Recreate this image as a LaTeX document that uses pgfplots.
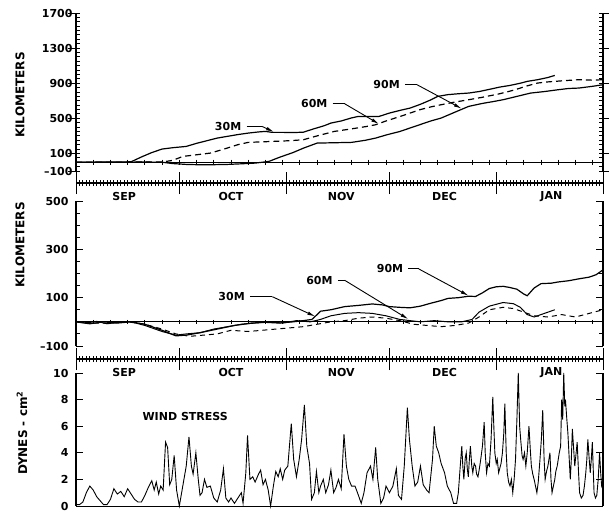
\documentclass[border=0pt]{standalone}
\usepackage{fontspec}
\setmainfont{DejaVu Sans}
\usepackage{pgfplots}
\pgfplotsset{compat=1.18}
\usetikzlibrary{arrows.meta}

\tikzset{
  lab/.style={font=\bfseries\fontsize{11}{11}\selectfont},
  ylab/.style={font=\bfseries\fontsize{12}{12}\selectfont, rotate=90},
  lead/.style={black, line width=0.9pt},
  arr/.style={black, line width=0.9pt, -{Latex[length=8pt,width=3.5pt]}}
}
\pgfplotsset{
  panel/.style={scale only axis, width=527pt, xmin=0, xmax=153,
    axis y line=box, axis x line=none, xtick=\empty, clip=false,
    tick align=inside, major tick length=7pt, minor tick length=4pt,
    every tick/.style={black, line width=0.9pt},
    axis line style={line width=1.1pt},
    yticklabel style={font=\bfseries\fontsize{11}{11}\selectfont, xshift=-4pt}},
  strip/.style={scale only axis, width=527pt, height=22pt, xmin=0, xmax=153,
    ymin=-1, ymax=1, axis x line=middle, axis y line=none,
    axis line style={-, line width=1.1pt}, clip=false,
    xtick={0,30,61,91,122,153}, minor xtick={1,2,...,152}, xticklabels={},
    tick align=center, major tick length=22pt, minor tick length=6pt,
    every tick/.style={black, line width=0.9pt}, ytick=\empty},
  curve/.style={black, line width=1.2pt, mark=none}
}

\begin{document}
\begin{tikzpicture}
\useasboundingbox (0pt,0pt) rectangle (609pt,512pt);

% ---- top panel: along-shore distance
\begin{axis}[panel, at={(76pt,341pt)}, height=158pt, ymin=-100, ymax=1700,
  ytick={-100,100,500,900,1300,1700},
  yticklabels={\textendash100,100,500,900,1300,1700},
  minor ytick={-100,-50,...,1700},
  major tick length=-8pt, yticklabel style={xshift=4pt}]
\addplot[black, line width=1pt] coordinates {(0,0)(153,0)};
\addplot[black, only marks, mark=|, mark size=2.5pt, line width=0.8pt]
  coordinates {(5,0)(10,0)(15,0)(20,0)(25,0)(30,0)(35,0)(40,0)(45,0)(50,0)(55,0)(60,0)(65,0)(70,0)(75,0)(80,0)(85,0)(90,0)(95,0)(100,0)(105,0)(110,0)(115,0)(120,0)(125,0)(130,0)(135,0)(140,0)(145,0)(150,0)};
% 30M
\addplot[curve] coordinates {(0,0)(8,2)(14,3)(16,5)(19,60)(22,110)(25,150)(28,165)(32,180)(35,215)(38,245)(41,275)(44,295)(47,315)(50,332)(53,345)(55,351)(57,340)(60,340)(63,338)(66,342)(69,380)(72,415)(74,446)(77,470)(80,505)(82,522)(85,520)(88,522)(91,560)(94,590)(97,617)(100,660)(103,710)(105,750)(108,770)(111,780)(114,788)(117,805)(120,830)(123,856)(126,875)(129,900)(131,921)(134,940)(137,965)(139,989)};
% 60M
\addplot[curve, dash pattern=on 6pt off 4pt] coordinates {(0,0)(10,0)(20,2)(25,3)(28,20)(31,66)(35,85)(39,104)(43,150)(47,200)(50,226)(54,232)(57,237)(62,245)(66,256)(70,300)(75,351)(80,380)(84,405)(87,427)(90,470)(94,520)(97,560)(100,600)(103,630)(106,655)(110,685)(114,712)(118,740)(123,780)(127,820)(131,870)(134,902)(137,915)(139,921)(142,930)(146,940)(150,935)(153,940)};
% 90M
\addplot[curve] coordinates {(0,0)(10,0)(20,2)(25,0)(28,-15)(32,-25)(36,-29)(40,-28)(44,-25)(48,-18)(52,-10)(56,9)(59,55)(63,110)(66,160)(70,218)(75,222)(80,226)(84,250)(87,275)(90,310)(94,350)(97,390)(100,430)(103,470)(106,503)(110,570)(114,636)(118,670)(121,690)(124,712)(128,750)(132,788)(136,805)(140,826)(143,840)(146,845)(150,865)(153,883)};
\node[lab, anchor=east] at (axis cs:49,408) {30M};
\draw[lead] (axis cs:49.5,408) -- (axis cs:54,408);
\draw[arr] (axis cs:54,408) -- (axis cs:57.5,345);
\node[lab, anchor=east] at (axis cs:74,666) {60M};
\draw[lead] (axis cs:74.5,666) -- (axis cs:78,666);
\draw[arr] (axis cs:78,666) -- (axis cs:88,435);
\node[lab, anchor=east] at (axis cs:95,883) {90M};
\draw[lead] (axis cs:95.5,883) -- (axis cs:99,883);
\draw[arr] (axis cs:99,883) -- (axis cs:112,610);
\end{axis}

\begin{axis}[strip, at={(76pt,318pt)}]
\node[lab] at (axis cs:14,-1.2) {SEP};
\node[lab] at (axis cs:45,-1.2) {OCT};
\node[lab] at (axis cs:77,-1.2) {NOV};
\node[lab] at (axis cs:107,-1.2) {DEC};
\node[lab] at (axis cs:138,-1.2) {JAN};
\end{axis}

% ---- middle panel: cross-shore distance
\begin{axis}[panel, at={(76pt,166pt)}, height=145pt, ymin=-100, ymax=500,
  ytick={-100,100,300,500},
  yticklabels={\textendash100,100,300,500},
  minor ytick={-100,-50,...,500}]
\addplot[black, line width=1pt] coordinates {(0,0)(153,0)};
\addplot[black, only marks, mark=|, mark size=2pt, line width=0.8pt]
  coordinates {(5,0)(10,0)(15,0)(20,0)(25,0)(30,0)(35,0)(40,0)(45,0)(50,0)(55,0)(60,0)(65,0)(70,0)(75,0)(80,0)(85,0)(90,0)(95,0)(100,0)(105,0)(110,0)(115,0)(120,0)(125,0)(130,0)(135,0)(140,0)(145,0)(150,0)};
% 30M
\addplot[curve, line width=1pt] coordinates {(0,0)(3,-5)(6,2)(9,-8)(12,-3)(16,0)(20,-15)(25,-40)(29,-55)(32,-50)(36,-45)(40,-30)(44,-20)(48,-10)(52,-5)(56,0)(60,-5)(64,5)(68,0)(71,10)(74,25)(78,35)(82,38)(86,35)(90,25)(94,10)(97,5)(100,0)(104,5)(108,0)(112,0)(115,10)(117,40)(120,65)(124,80)(127,75)(129,60)(131,30)(133,20)(135,30)(137,40)(139,50)};
% 60M
\addplot[curve, line width=1pt, dash pattern=on 5pt off 4pt] coordinates {(0,0)(5,-5)(10,-5)(15,0)(20,-10)(25,-30)(29,-50)(33,-60)(37,-55)(41,-50)(45,-35)(50,-40)(54,-35)(58,-30)(62,-25)(66,-20)(70,-10)(74,0)(78,5)(82,15)(86,20)(90,15)(94,5)(98,-10)(102,-15)(106,-20)(110,-15)(114,-5)(117,20)(120,50)(124,60)(127,55)(130,40)(133,25)(137,20)(141,30)(145,20)(149,35)(153,50)};
% 90M
\addplot[curve] coordinates {(0,0)(4,-8)(8,0)(12,-5)(16,0)(20,-10)(25,-35)(29,-58)(32,-55)(36,-45)(41,-30)(46,-15)(51,-5)(55,-2)(59,-5)(63,0)(66,5)(68.5,10)(70,30)(71,44)(74,50)(78,63)(82,68)(86,74)(89,70)(91,63)(94,60)(97,58)(100,65)(103,77)(106,88)(108,97)(111,100)(114,106)(116,105)(118,120)(120,138)(122,145)(124,147)(126,142)(128,135)(130,115)(131,108)(133,140)(135,158)(138,160)(140,165)(143,170)(146,178)(149,185)(151,195)(153,215)};
\node[lab, anchor=east] at (axis cs:50,104) {30M};
\draw[lead] (axis cs:50.5,104) -- (axis cs:57,104);
\draw[arr] (axis cs:57,104) -- (axis cs:69.5,22);
\node[lab, anchor=east] at (axis cs:75.5,172) {60M};
\draw[lead] (axis cs:76,172) -- (axis cs:78,172);
\draw[arr] (axis cs:78,172) -- (axis cs:96.5,11);
\node[lab, anchor=east] at (axis cs:96,219) {90M};
\draw[lead] (axis cs:96.5,219) -- (axis cs:99.5,219);
\draw[arr] (axis cs:99.5,219) -- (axis cs:114,108);
\end{axis}

\begin{axis}[strip, at={(76pt,142pt)}]
\node[lab] at (axis cs:14,-1.2) {SEP};
\node[lab] at (axis cs:45,-1.2) {OCT};
\node[lab] at (axis cs:77,-1.2) {NOV};
\node[lab] at (axis cs:107,-1.2) {DEC};
\node[lab] at (axis cs:138,-1.2) {JAN};
\end{axis}

% ---- bottom panel: wind stress
\begin{axis}[panel, at={(76pt,6pt)}, height=133pt, ymin=0, ymax=10,
  ytick={0,2,4,6,8,10}, yticklabels={0,2,4,6,8,10}]
\addplot[black, line width=1pt] coordinates {(0,0)(153,0)};
\addplot[black, line width=0.9pt] coordinates {(0,0.1)(1,0.1)(2,0.3)(3,1.0)(4,1.5)(5,1.2)(6,0.7)(7,0.4)(8,0.1)(9,0.1)(10,0.5)(11,1.3)(12,0.9)(13,1.1)(14,0.7)(15,1.3)(16,0.9)(17,0.5)(18,0.3)(19,0.3)(20,0.8)(21,1.4)(22,1.9)(22.7,1.2)(23.3,1.8)(24,0.9)(24.6,1.5)(25.3,1.2)(26,4.8)(26.6,4.4)(27.2,1.6)(27.8,2.0)(28.5,3.8)(29.2,1.2)(30,0.0)(31,1.5)(32,3.0)(32.8,5.2)(33.5,3.0)(34,2.4)(34.8,4.0)(35.5,2.0)(36,0.8)(36.6,1.0)(37.3,2.0)(38,1.4)(39,1.5)(40,0.6)(41,0.3)(42,1.2)(42.8,2.8)(43.5,0.6)(44.3,0.3)(45,0.6)(46,0.2)(47,0.6)(48,1.0)(48.5,0.2)(49.3,2.5)(49.8,5.3)(50.5,2.0)(51.3,2.2)(52,1.8)(53,2.4)(53.6,2.7)(54.3,1.6)(55,2.0)(55.8,1.2)(56.5,0.0)(57.3,1.5)(58,2.6)(58.7,2.2)(59.3,2.8)(60,2.0)(60.6,2.7)(61.5,3.0)(62.5,6.2)(63.2,3.5)(64,2.2)(64.8,3.5)(65.5,5.0)(66.3,7.6)(67,4.5)(67.8,3.2)(68.4,0.5)(69.2,1.0)(69.8,2.6)(70.5,1.0)(71,1.5)(71.8,2.0)(72.5,1.0)(73.3,1.6)(74,2.7)(74.8,1.0)(75.5,1.4)(76.2,2.0)(77,1.3)(77.8,5.4)(78.5,3.0)(79.2,2.0)(80,1.5)(81,1.5)(82,0.8)(82.8,0.2)(83.6,1.0)(84.5,2.5)(85.5,3.0)(86.2,2.0)(87,4.4)(87.6,2.0)(88.5,0.2)(89.3,0.6)(90,1.5)(91,1.0)(92,1.5)(93,2.8)(93.6,0.8)(94.5,0.5)(95.3,3.0)(96.2,7.4)(96.8,5.0)(97.6,3.0)(98.4,1.5)(99.2,1.8)(100,3.0)(100.8,1.6)(101.8,1.2)(102.5,1.0)(103.5,3.5)(104,6.0)(104.6,4.5)(105.3,4.0)(106,3.2)(107,2.5)(107.8,1.5)(108.8,1.0)(109.6,0.2)(110.5,0.2)(111,1.0)(111.5,2.8)(112,4.5)(112.3,3.0)(112.6,2.0)(113,3.6)(113.3,4.0)(113.6,2.8)(113.9,2.2)(114.2,3.5)(114.5,4.5)(114.9,3.0)(115.2,2.5)(115.6,3.2)(116,3.0)(116.3,2.4)(116.7,2.2)(117.1,2.8)(117.5,3.5)(118,4.5)(118.5,6.3)(118.8,4.0)(119.2,2.5)(119.6,3.2)(120,3.0)(120.5,5.0)(121,8.2)(121.3,6.0)(121.6,4.0)(122,3.2)(122.3,3.5)(122.7,2.5)(123,2.8)(123.4,3.2)(123.8,4.0)(124.2,5.5)(124.5,7.7)(124.9,4.0)(125.2,2.5)(125.6,1.8)(126,1.5)(126.4,2.0)(126.8,1.0)(127.2,2.0)(127.6,3.5)(128,6.5)(128.4,10.0)(128.8,6.0)(129.1,5.0)(129.5,3.8)(129.8,3.5)(130.2,4.0)(130.6,3.0)(131,4.0)(131.5,6.0)(131.9,4.2)(132.2,3.0)(132.6,2.4)(133,2.0)(133.4,1.5)(133.8,1.0)(134.2,1.8)(134.7,3.5)(135.1,5.0)(135.5,7.2)(135.9,3.5)(136.2,2.0)(136.6,2.6)(137,3.0)(137.3,3.5)(137.6,4.0)(137.9,2.0)(138.2,1.0)(138.6,1.5)(139,2.0)(139.3,2.6)(139.7,3.0)(140,3.5)(140.3,4.0)(140.7,4.5)(141,8.0)(141.3,6.5)(141.6,10.0)(141.9,7.5)(142.1,8.0)(142.5,6.5)(142.8,5.5)(143.2,3.5)(143.5,2.0)(143.8,3.5)(144.1,5.8)(144.5,4.2)(144.8,3.0)(145.2,4.0)(145.5,4.8)(145.9,2.5)(146.2,1.0)(146.7,0.6)(147.2,0.8)(147.6,1.5)(148,2.5)(148.3,3.5)(148.6,5.0)(149,3.5)(149.3,2.5)(149.6,3.5)(149.9,4.8)(150.2,2.5)(150.4,1.0)(150.8,0.6)(151.2,0.8)(151.6,2.0)(152,4.0)(152.3,2.6)(152.6,1.5)(153,1.2)};
\node[lab] at (axis cs:31.7,6.7) {WIND STRESS};
\end{axis}

% ---- y labels
\node[ylab] at (20pt,417pt) {KILOMETERS};
\node[ylab] at (20pt,267pt) {KILOMETERS};
\node[ylab] at (22pt,79pt) {DYNES - cm\textsuperscript{2}};
\end{tikzpicture}
\end{document}
